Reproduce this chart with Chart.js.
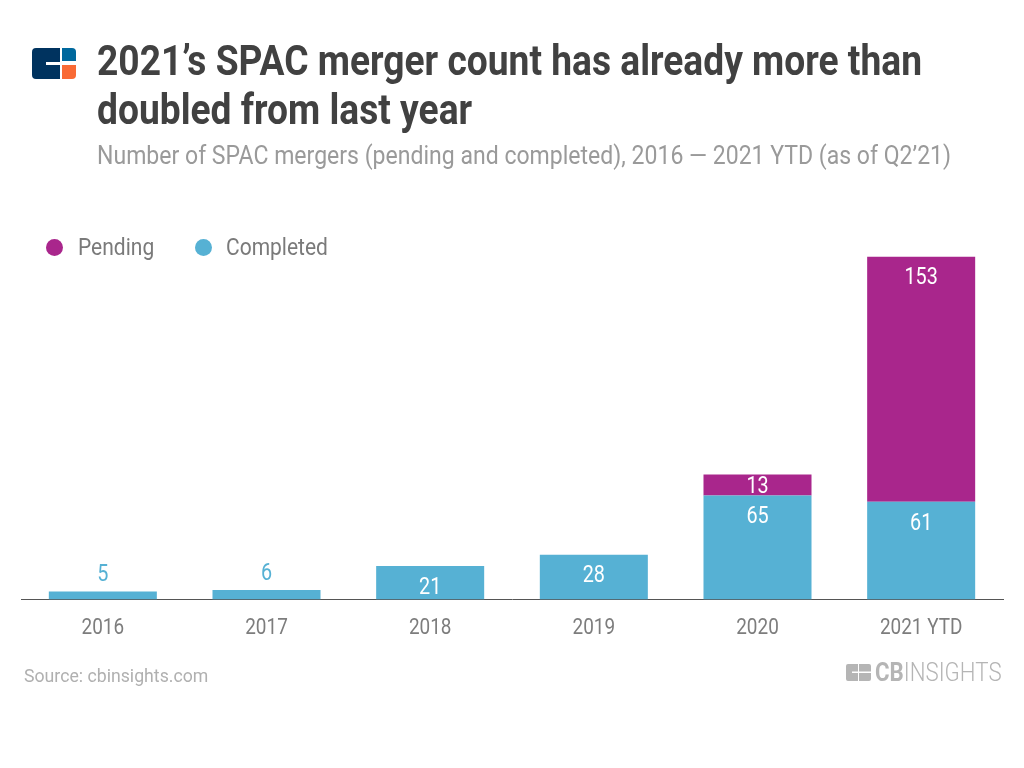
<!DOCTYPE html>
<html>
<head>
<meta charset="utf-8">
<script src="https://cdn.jsdelivr.net/npm/chart.js@4/dist/chart.umd.min.js"></script>
<style>
  html, body { margin: 0; padding: 0; background: #fff; }
  body { width: 1024px; height: 768px; overflow: hidden; position: relative; font-family: Roboto, sans-serif; }
  canvas { position: absolute; left: 0; top: 0; }
  .txt { position: absolute; white-space: nowrap; transform-origin: 0 0; transform: scaleX(0.86); }
  #title { left: 97px; top: 36px; font-size: 42px; line-height: 49px; font-weight: 700; color: #414141; transform: scaleX(0.885); }
  #subtitle { left: 97px; top: 140px; font-size: 26px; line-height: 30px; color: #9a9a9a; transform: scaleX(0.886); }
  .leg { top: 233px; font-size: 24px; line-height: 28px; color: #7a7a7a; transform: scaleX(0.875); }
  .dot { position: absolute; top: 239px; width: 17px; height: 17px; border-radius: 50%; }
  #source { left: 24px; top: 666px; font-size: 17.7px; line-height: 20px; color: #b0b0b0; transform: none; }
  #logo { position: absolute; left: 32px; top: 48px; }
  #cb { position: absolute; left: 846px; top: 664px; }
  #brand { left: 875px; top: 658px; font-size: 25px; line-height: 30px; color: #b5b5b5; font-weight: 300; transform: scaleX(0.89); }
  #brand b { font-weight: 700; }
</style>
</head>
<body>
<canvas id="chart" width="1024" height="768"></canvas>
<svg id="logo" width="44" height="31" viewBox="0 0 44 31">
  <path d="M4 0H28V14H14V17H28V31H4a4 4 0 0 1-4-4V4a4 4 0 0 1 4-4z" fill="#00335f"/>
  <path d="M30 0H40a4 4 0 0 1 4 4V13H30z" fill="#00689d"/>
  <path d="M30 17H44V27a4 4 0 0 1-4 4H30z" fill="#f96a35"/>
</svg>
<div class="txt" id="title">2021’s SPAC merger count has already more than<br>doubled from last year</div>
<div class="txt" id="subtitle">Number of SPAC mergers (pending and completed), 2016 — 2021 YTD (as of Q2’21)</div>
<div class="dot" style="left:46px;background:#a9268c"></div>
<div class="txt leg" style="left:78px">Pending</div>
<div class="dot" style="left:195px;background:#56b1d4"></div>
<div class="txt leg" style="left:226px">Completed</div>
<div class="txt" id="source">Source: cbinsights.com</div>
<svg id="cb" width="25" height="17" viewBox="0 0 25 17">
  <path d="M2 0H12V7.5H6V9H12V17H2a2 2 0 0 1-2-2V2a2 2 0 0 1 2-2z" fill="#b5b5b5"/>
  <path d="M13 0H23a2 2 0 0 1 2 2V7.5H13zM13 9H25V15a2 2 0 0 1-2 2H13z" fill="#b5b5b5"/>
</svg>
<div class="txt" id="brand"><b>CB</b>INSIGHTS</div>
<script>
const categories = ["2016", "2017", "2018", "2019", "2020", "2021 YTD"];
const completed = [5, 6, 21, 28, 65, 61];
const pending = [null, null, null, null, 13, 153];

const PENDING_COLOR = "#a9268c";
const COMPLETED_COLOR = "#56b1d4";

// Roboto Condensed isn't installed, so squeeze whatever the chart writes
const condenseText = {
    id: "condenseText",
    beforeDraw(chart) {
        const ctx = chart.ctx;
        if (ctx.condensed) return;
        ctx.condensed = true;
        const fillText = ctx.fillText.bind(ctx);
        ctx.fillText = (text, x, y) => {
            ctx.save();
            ctx.translate(x, y);
            ctx.scale(0.86, 1);
            fillText(text, 0, 0);
            ctx.restore();
        };
    },
};

// Value labels: inside the bar near the top, above it when the bar is too short
const barValues = {
    id: "barValues",
    afterDatasetsDraw(chart) {
        const ctx = chart.ctx;
        ctx.save();
        ctx.font = "23px Roboto";
        ctx.textAlign = "center";
        ctx.textBaseline = "middle";
        chart.data.datasets.forEach((ds, i) => {
            chart.getDatasetMeta(i).data.forEach((bar, j) => {
                const value = ds.data[j];
                if (value == null) return;
                const h = bar.base - bar.y;
                let y = bar.y + 22;
                ctx.fillStyle = "#fff";
                if (h < 12) {
                    y = bar.y - 16;
                    ctx.fillStyle = COMPLETED_COLOR;
                } else if (h < 25) {
                    y = bar.y + h / 2 + 2;
                }
                ctx.fillText(String(value), bar.x, y);
            });
        });
        ctx.restore();
    },
};

new Chart(document.getElementById("chart"), {
    type: "bar",
    data: {
        labels: categories,
        datasets: [
            { label: "Completed", data: completed, backgroundColor: COMPLETED_COLOR },
            { label: "Pending", data: pending, backgroundColor: PENDING_COLOR },
        ],
    },
    options: {
        responsive: false,
        animation: false,
        devicePixelRatio: 1,
        layout: { padding: { left: 21, right: 21, top: 215, bottom: 110 } },
        datasets: { bar: { categoryPercentage: 1, barPercentage: 0.66 } },
        plugins: { legend: { display: false }, tooltip: { enabled: false } },
        scales: {
            x: {
                stacked: true,
                grid: { display: false, drawTicks: false },
                border: { color: "#555", width: 1 },
                ticks: { color: "#7d7d7d", font: { family: "Roboto", size: 22 }, padding: 16, maxRotation: 0 },
            },
            y: { stacked: true, display: false, min: 0, max: 240 },
        },
    },
    plugins: [condenseText, barValues],
});
</script>
</body>
</html>
